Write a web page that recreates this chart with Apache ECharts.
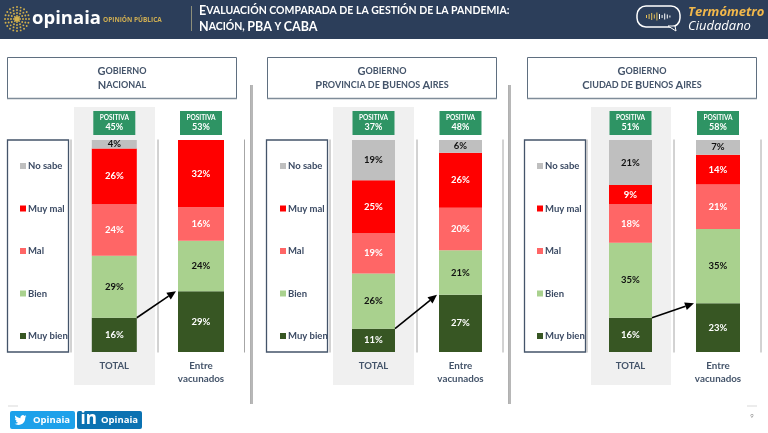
<!DOCTYPE html>
<html><head><meta charset="utf-8">
<style>html,body{margin:0;padding:0;background:#fff}#c{width:768px;height:433px}</style>
<script src="https://cdn.jsdelivr.net/npm/echarts@6/dist/echarts.min.js"></script>
</head><body><div id="c"></div>
<script>
const categories = ['TOTAL', 'Entre\nvacunados'];
const panelTitles = ['Nacional', 'Provincia de Buenos Aires', 'Ciudad de Buenos Aires'];
const seriesNames = ['Muy bien', 'Bien', 'Mal', 'Muy mal', 'No sabe'];
const legendOrder = ['No sabe', 'Muy mal', 'Mal', 'Bien', 'Muy bien'];
const seriesColors = ['#375623', '#a9d18e', '#ff6666', '#ff0000', '#bfbfbf'];
const labelColors = ['#fff', '#111', '#fff', '#fff', '#111'];
// each row: Nacion TOTAL, Nacion vacunados, PBA TOTAL, PBA vacunados, CABA TOTAL, CABA vacunados
const muyBien = [16, 29, 11, 27, 16, 23];
const bien = [29, 24, 26, 21, 35, 35];
const mal = [24, 16, 19, 20, 18, 21];
const muyMal = [26, 32, 25, 26, 9, 14];
const noSabe = [4, 0, 19, 6, 21, 7];
const positiva = [45, 53, 37, 48, 51, 58];

const values = [muyBien, bien, mal, muyMal, noSabe];
const FONT = 'Lato';
const barCentres = [114.3, 201, 373.5, 460.5, 630.5, 718];
const barWidths = [45, 46, 43, 43, 43, 44];
const panelX = [7, 267, 527];
const greyBand = [[74, 81], [333, 81], [591, 80]];
const legendBox = [7, 266, 524];
const legendLeft = [10, 270, 527];
const ruleX = [71, 158, 244.5, 330, 417, 503, 587, 674, 761];
const barTop = 140, barBottom = 352, bandW = 80;
const birdPath = 'M23.953 4.57a10 10 0 01-2.825.775 4.958 4.958 0 002.163-2.723c-.951.555-2.005.959-3.127 1.184a4.92 4.92 0 00-8.384 4.482C7.69 8.095 4.067 6.13 1.64 3.162a4.822 4.822 0 00-.666 2.475c0 1.71.87 3.213 2.188 4.096a4.904 4.904 0 01-2.228-.616v.06a4.923 4.923 0 003.946 4.827 4.996 4.996 0 01-2.212.085 4.936 4.936 0 004.604 3.417 9.867 9.867 0 01-6.102 2.105c-.39 0-.779-.023-1.17-.067a13.995 13.995 0 007.557 2.209c9.053 0 13.998-7.496 13.998-13.985 0-.21 0-.42-.015-.63A9.935 9.935 0 0024 4.59z';

const chart = echarts.init(document.getElementById('c'), null, {renderer: 'canvas'});

function smallCaps(s, big, small) {
  return s.replace(/([A-ZÁÉÍÓÚ]+)|([^A-ZÁÉÍÓÚ]+)/g, (m, u, l) =>
    u ? `{${big}|${u}}` : `{${small}|${l.toUpperCase()}}`);
}

const grids = [], xAxes = [], yAxes = [], series = [];
barCentres.forEach((c, b) => {
  grids.push({left: c - bandW / 2, width: bandW, top: barTop, height: barBottom - barTop});
  xAxes.push({gridIndex: b, type: 'category', data: [categories[b % 2]],
    axisLine: {show: false}, axisTick: {show: false},
    axisLabel: {interval: 0, margin: 7, color: '#44546a', fontFamily: FONT, fontSize: b % 2 ? 9.8 : 9.5,
      fontWeight: 'bold', lineHeight: 13.5}});
  const total = values.reduce((a, v) => a + v[b], 0);
  yAxes.push({gridIndex: b, type: 'value', min: 0, max: total, show: false, splitLine: {show: false}});
  seriesNames.forEach((n, i) => {
    series.push({name: n, type: 'bar', stack: 's' + b, xAxisIndex: b, yAxisIndex: b,
      barWidth: barWidths[b], data: [values[i][b] || null],
      itemStyle: {color: seriesColors[i]},
      label: {show: values[i][b] > 0, position: 'inside', formatter: '{c}%', color: labelColors[i],
        fontFamily: FONT, fontWeight: 'bold', fontSize: 9.5}});
  });
});

const g = [];
// header
g.push({type: 'rect', shape: {x: 0, y: 0, width: 768, height: 39}, style: {fill: '#2c3e5a'}, z: 1});
for (let r = 0; r < 4; r++) {
  const n = 8 + r * 4, rad = 3 + r * 3;
  for (let k = 0; k < n; k++) {
    const a = k / n * Math.PI * 2;
    g.push({type: 'circle', shape: {cx: 17 + rad * Math.cos(a), cy: 19 + rad * Math.sin(a), r: 0.95},
      style: {fill: '#d2b04c'}, z: 2});
  }
}
g.push({type: 'circle', shape: {cx: 17, cy: 19, r: 2.5}, style: {fill: '#d2b04c'}, z: 2});
g.push({type: 'text', x: 32, y: 19, style: {text: 'opinaia', fill: '#fff', font: 'bold 18.5px "Open Sans"', textVerticalAlign: 'middle'}, z: 2});
g.push({type: 'text', x: 103, y: 20.5, style: {text: 'OPINIÓN PÚBLICA', fill: '#cfae52', font: 'bold 6.5px "Open Sans"', textVerticalAlign: 'middle'}, z: 2});
g.push({type: 'line', shape: {x1: 191.5, y1: 6, x2: 191.5, y2: 31}, style: {stroke: '#8d8f7a', lineWidth: 1}, z: 2});
const headRich = {b: {fontFamily: FONT, fontWeight: 'bold', fontSize: 12.5, fill: '#fff'},
                  s: {fontFamily: FONT, fontWeight: 'bold', fontSize: 10.5, fill: '#fff'}};
g.push({type: 'text', x: 199, y: 11, z: 2, style: {
  text: smallCaps('Evaluación comparada de la gestión de la pandemia:', 'b', 's'),
  fill: '#fff', textVerticalAlign: 'middle', rich: headRich}});
g.push({type: 'text', x: 199, y: 27, z: 2, style: {
  text: smallCaps('Nación, PBA y CABA', 'b', 's'),
  fill: '#fff', textVerticalAlign: 'middle', rich: headRich}});
// right logo
g.push({type: 'rect', shape: {x: 637, y: 6, width: 43, height: 21, r: 9}, style: {fill: 'none', stroke: '#fff', lineWidth: 1.5}, z: 2});
g.push({type: 'polygon', shape: {points: [[668, 26], [675, 26], [676, 31]]}, style: {fill: '#2c3e5a', stroke: '#fff', lineWidth: 1}, z: 2});
[3, 5, 7, 4, 8, 5, 3, 6, 4, 2].forEach((h, i) => g.push({type: 'rect',
  shape: {x: 646 + i * 2.6, y: 16.5 - h / 2, width: 1, height: h}, style: {fill: i < 5 ? '#e6c15a' : '#fff'}, z: 3}));
g.push({type: 'text', x: 688, y: 12.5, style: {text: 'Termómetro', fill: '#f2b84b', font: 'italic bold 13px "Open Sans"', textVerticalAlign: 'middle'}, z: 2});
g.push({type: 'text', x: 688, y: 26, style: {text: 'Ciudadano', fill: '#fff', font: 'italic 13px "Open Sans"', textVerticalAlign: 'middle'}, z: 2});

panelTitles.forEach((t, p) => {
  g.push({type: 'rect', shape: {x: panelX[p] + .5, y: 57.5, width: 229, height: 41}, style: {fill: '#fff', stroke: '#5f6f80', lineWidth: 1}, z: 1});
  g.push({type: 'line', shape: {x1: panelX[p], y1: 98.5, x2: panelX[p] + 230, y2: 98.5}, style: {stroke: '#7f8c99', lineWidth: 1.5}, z: 1});
  const rich = {b: {fontFamily: FONT, fontWeight: 'bold', fontSize: 11, fill: '#44546a', align: 'center'},
                s: {fontFamily: FONT, fontWeight: 'bold', fontSize: 9, fill: '#44546a', align: 'center'}};
  g.push({type: 'text', x: panelX[p] + 115, y: 71.5, z: 2, style: {text: smallCaps('Gobierno', 'b', 's'), rich, textAlign: 'center', textVerticalAlign: 'middle'}});
  g.push({type: 'text', x: panelX[p] + 115, y: 85, z: 2, style: {text: smallCaps(t, 'b', 's'), rich, textAlign: 'center', textVerticalAlign: 'middle'}});
  g.push({type: 'rect', shape: {x: greyBand[p][0], y: 107, width: greyBand[p][1], height: 278}, style: {fill: '#f0f0f0'}, z: 0});
  g.push({type: 'rect', shape: {x: legendBox[p] + .5, y: 140, width: 61, height: 212}, style: {fill: '#fff', stroke: '#44546a', lineWidth: 1.3}, z: 1});
});
ruleX.forEach(x => g.push({type: 'line', shape: {x1: x, y1: 139.5, x2: x, y2: 352.5}, style: {stroke: '#a6a6a6', lineWidth: 1}, z: 1}));
[251, 509].forEach(x => {
  g.push({type: 'line', shape: {x1: x - .5, y1: 85, x2: x - .5, y2: 404}, style: {stroke: '#b0b0b0', lineWidth: 1}, z: 1});
  g.push({type: 'line', shape: {x1: x + 1, y1: 85, x2: x + 1, y2: 404}, style: {stroke: '#707070', lineWidth: 1}, z: 1});
});
barCentres.forEach((c, b) => {
  g.push({type: 'rect', shape: {x: c - 21, y: 111, width: 42, height: 24}, style: {fill: '#2e9464'}, z: 2});
  g.push({type: 'text', x: c, y: 118, z: 3, style: {text: 'POSITIVA', fill: '#fff', font: `bold 6.5px ${FONT}`, textAlign: 'center', textVerticalAlign: 'middle'}});
  g.push({type: 'text', x: c, y: 127.5, z: 3, style: {text: positiva[b] + '%', fill: '#fff', font: `bold 9px ${FONT}`, textAlign: 'center', textVerticalAlign: 'middle'}});
});
// footer
const btn = (x, w, fill) => g.push({type: 'rect', shape: {x, y: 411, width: w, height: 18, r: 2}, style: {fill}, z: 1});
btn(10, 65, '#1da1ea'); btn(77, 65, '#0b72b2');
g.push({type: 'image', z: 2, style: {
  image: 'data:image/svg+xml,' + encodeURIComponent(`<svg xmlns="http://www.w3.org/2000/svg" width="48" height="48" viewBox="0 0 24 24"><path fill="#fff" d="${birdPath}"/></svg>`),
  x: 14.5, y: 414, width: 12, height: 12}});
g.push({type: 'text', x: 33, y: 420, z: 2, style: {text: 'Opinaia', fill: '#fff', font: 'bold 9.5px "Open Sans"', textVerticalAlign: 'middle'}});
g.push({type: 'text', x: 80.5, y: 419.5, z: 2, style: {text: 'in', fill: '#fff', font: 'bold 17px "Open Sans"', textVerticalAlign: 'middle'}});
g.push({type: 'text', x: 101, y: 420, z: 2, style: {text: 'Opinaia', fill: '#fff', font: 'bold 9.5px "Open Sans"', textVerticalAlign: 'middle'}});
g.push({type: 'line', shape: {x1: 8, y1: 406, x2: 18, y2: 406}, style: {stroke: '#d9d9d9', lineWidth: 1}, z: 1});
g.push({type: 'line', shape: {x1: 747, y1: 406, x2: 757, y2: 406}, style: {stroke: '#d9d9d9', lineWidth: 1}, z: 1});
g.push({type: 'text', x: 752, y: 416, z: 2, style: {text: '9', fill: '#8c8c8c', font: `6px ${FONT}`, textAlign: 'center', textVerticalAlign: 'middle'}});

// legend swatches are inline so the text can sit tight against them
const legendRich = {t: {fontFamily: FONT, fontWeight: 'bold', fontSize: 9.5, color: '#3b4a63', padding: [0, 0, 0, 2]}};
seriesNames.forEach((n, i) => { legendRich['k' + i] = {width: 6, height: 6, backgroundColor: seriesColors[i]}; });
const legends = legendLeft.map(x => ({
  left: x, top: 155, orient: 'vertical', itemWidth: 0, itemHeight: 12, itemGap: 30.5,
  selectedMode: false, icon: 'rect', data: legendOrder, z: 5,
  formatter: n => `{k${seriesNames.indexOf(n)}|}{t|${n}}`,
  textStyle: {rich: legendRich}
}));

chart.setOption({animation: false, backgroundColor: '#fff', grid: grids, xAxis: xAxes, yAxis: yAxes,
  series, legend: legends, graphic: {elements: g}});

// arrows follow the top of the "Muy bien" segment from TOTAL to "Entre vacunados"
const arrows = [];
[0, 2, 4].forEach(b => {
  const y1 = chart.convertToPixel({yAxisIndex: b}, muyBien[b]);
  const y2 = chart.convertToPixel({yAxisIndex: b + 1}, muyBien[b + 1]);
  const x1 = barCentres[b] + barWidths[b] / 2, x2 = barCentres[b + 1] - barWidths[b + 1] / 2 - 2;
  const a = Math.atan2(y2 - y1, x2 - x1), L = 9, W = 4;
  const bx = x2 - L * Math.cos(a), by = y2 - L * Math.sin(a);
  arrows.push({type: 'line', shape: {x1, y1, x2: bx, y2: by}, style: {stroke: '#000', lineWidth: 1.6}, z: 50});
  arrows.push({type: 'polygon', shape: {points: [[x2, y2],
    [bx - W * Math.sin(a), by + W * Math.cos(a)], [bx + W * Math.sin(a), by - W * Math.cos(a)]]},
    style: {fill: '#000'}, z: 50});
});
chart.setOption({graphic: {elements: g.concat(arrows)}});
</script></body></html>
